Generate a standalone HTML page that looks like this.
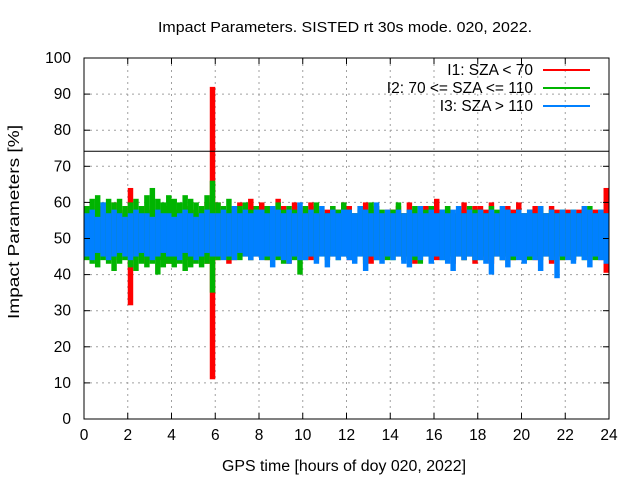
<!DOCTYPE html>
<html><head><meta charset="utf-8"><style>
body{margin:0;background:#fff;}
svg{font-family:"Liberation Sans",sans-serif;display:block;}
</style></head><body>
<svg id="chart" width="640" height="480">
<rect width="640" height="480" fill="#fff"/>
<text x="158" y="32" font-size="15" textLength="374" lengthAdjust="spacingAndGlyphs">Impact Parameters. SISTED rt 30s mode. 020, 2022.</text>
<g id="grid"></g>
<g id="series"></g>
<line x1="84" x2="609" y1="151.3" y2="151.3" stroke="#000" stroke-width="1"/>
<rect x="84" y="58" width="525" height="361" fill="none" stroke="#000" stroke-width="1"/>
<g id="ticks"></g>
<text x="222" y="471" font-size="15.5" textLength="244" lengthAdjust="spacingAndGlyphs">GPS time [hours of doy 020, 2022]</text>
<text x="0" y="0" font-size="15.5" text-anchor="middle" textLength="194" lengthAdjust="spacingAndGlyphs" transform="translate(19,222) rotate(-90)">Impact Parameters [%]</text>
<g>
<g><text x="533" y="75" font-size="15.5" text-anchor="end">I1: SZA &lt; 70</text><line x1="543" x2="590" y1="70" y2="70" stroke="#ff0000" stroke-width="2"/></g>
<g><text x="533" y="93" font-size="15.5" text-anchor="end">I2: 70 &lt;= SZA &lt;= 110</text><line x1="543" x2="590" y1="88" y2="88" stroke="#00b400" stroke-width="2"/></g>
<g><text x="533" y="111" font-size="15.5" text-anchor="end">I3: SZA &gt; 110</text><line x1="543" x2="590" y1="106" y2="106" stroke="#0080ff" stroke-width="2"/></g>
</g>
</svg>
<script>
const xTicks=[0,2,4,6,8,10,12,14,16,18,20,22,24];
const yTicks=[0,10,20,30,40,50,60,70,80,90,100];
const binHours=0.25;
const redHi=[58,57,59,57,58,60,57,58,64,58,57,59,58,57,58,59,58,57,59,58,57,58,60,92,60,58,57,59,60,58,61,59,60,59,58,61,59,58,60,59,58,60,59,57,58,59,58,60,59,57,58,60,58,59,57,58,58,59,57,60,58,57,59,58,61,58,59,57,58,60,58,59,59,58,60,57,58,59,58,60,57,58,59,58,57,59,58,57,58,57,58,59,57,58,57,64];
const redLo=[45,44,46,45,44,45,44,46,31.5,44,45,43,44,45,44,43,44,45,44,43,45,44,43,11,44,45,43,44,46,45,44,45,45,44,46,45,44,43,45,46,45,44,45,46,44,45,46,45,44,45,46,44,43,45,44,45,46,45,44,45,43,44,46,45,44,45,46,43,45,44,45,43,45,44,43,45,44,46,44,45,44,45,44,46,45,43,45,44,45,44,46,45,44,45,44,40.5];
const greenHi=[59,61,62,60,61,60,61,59,60,61,59,62,64,61,60,62,61,60,62,61,60,59,62,66,60,59,61,58,59,60,58,59,58,59,57,60,58,59,58,57,59,58,60,58,57,59,58,60,58,57,59,58,60,59,58,57,58,60,57,58,59,57,58,59,57,58,59,57,58,57,59,58,58,57,59,58,57,58,57,58,57,58,57,59,57,58,57,58,57,58,57,58,59,57,58,57];
const greenLo=[44,43,42,44,43,41,43,44,42,41,43,42,43,40,42,43,42,43,41,42,43,42,43,35,44,45,44,45,44,45,44,45,45,44,45,44,43,45,44,40,44,45,44,45,44,45,44,45,45,44,45,43,45,44,45,44,44,45,44,45,44,43,45,44,45,44,45,44,45,44,45,44,44,45,44,45,44,45,44,45,45,44,45,44,45,44,45,44,45,44,45,44,45,44,45,44];
const blueHi=[57,58,56,60,57,58,57,56,57,58,57,57,56,58,57,57,56,57,58,57,56,57,58,57,57,58,57,59,57,58,57,58,58,57,59,58,57,58,57,60,57,58,57,59,57,58,57,58,58,57,59,58,57,60,57,58,57,58,57,58,57,59,57,58,57,58,57,58,59,57,58,57,58,57,58,57,59,58,57,58,57,58,57,59,57,58,57,58,57,58,57,59,58,57,58,57];
const blueLo=[45,44,46,45,44,45,46,45,44,45,46,45,44,45,46,45,45,44,46,45,44,45,46,45,45,44,45,44,46,45,44,45,44,45,42,45,44,43,45,44,44,45,43,45,42,45,44,45,44,43,45,41,45,44,43,45,44,45,43,42,45,44,45,43,45,44,43,41,45,44,45,44,44,43,40,45,44,42,45,44,43,45,44,41,45,44,39,45,44,43,45,44,42,45,44,43];
const NS="http://www.w3.org/2000/svg";
const X0=84,X1=609,Y0=419,Y1=58;
function xs(h){return X0+(X1-X0)*h/24;}
function ys(v){return Y0-(Y0-Y1)*v/100;}
const grid=document.getElementById('grid'),ticks=document.getElementById('ticks'),ser=document.getElementById('series');
function mk(tag,attrs,parent){const e=document.createElementNS(NS,tag);for(const k in attrs)e.setAttribute(k,attrs[k]);parent.appendChild(e);return e;}
xTicks.forEach(t=>{const x=xs(t);
 if(t>0&&t<24){const g=mk('line',{x1:x,x2:x,y1:Y1,y2:Y0,stroke:'#a0a0a0','stroke-dasharray':'2,4'},grid);
 
 }
 mk('line',{x1:x,x2:x,y1:Y0,y2:Y0-6,stroke:'#000'},ticks);mk('line',{x1:x,x2:x,y1:Y1,y2:Y1+6,stroke:'#000'},ticks);
 const l=mk('text',{x:x,y:Y0+21,'font-size':15.5,'text-anchor':'middle'},ticks);l.textContent=t;
 
 });
yTicks.forEach(t=>{const y=ys(t);
 if(t>0&&t<100){const g=mk('line',{x1:X0,x2:X1,y1:y,y2:y,stroke:'#a0a0a0','stroke-dasharray':'2,4'},grid);
 
 }
 mk('line',{x1:X0,x2:X0+6,y1:y,y2:y,stroke:'#000'},ticks);mk('line',{x1:X1,x2:X1-6,y1:y,y2:y,stroke:'#000'},ticks);
 const l=mk('text',{x:X0-13,y:y+5,'font-size':15.5,'text-anchor':'end'},ticks);l.textContent=t;
 
 });
function drawSeries(hi,lo,color,name){
 const g=mk('g',{},ser);
 
 
 hi.forEach((h,i)=>{const xa=xs(i*binHours),xb=xs((i+1)*binHours);
  const r=mk('rect',{x:xa,y:ys(h),width:xb-xa,height:ys(lo[i])-ys(h),fill:color},g);
  
  });
}
drawSeries(redHi,redLo,'#ff0000','series-i1');
drawSeries(greenHi,greenLo,'#00b400','series-i2');
drawSeries(blueHi,blueLo,'#0080ff','series-i3');
</script>
</body></html>
